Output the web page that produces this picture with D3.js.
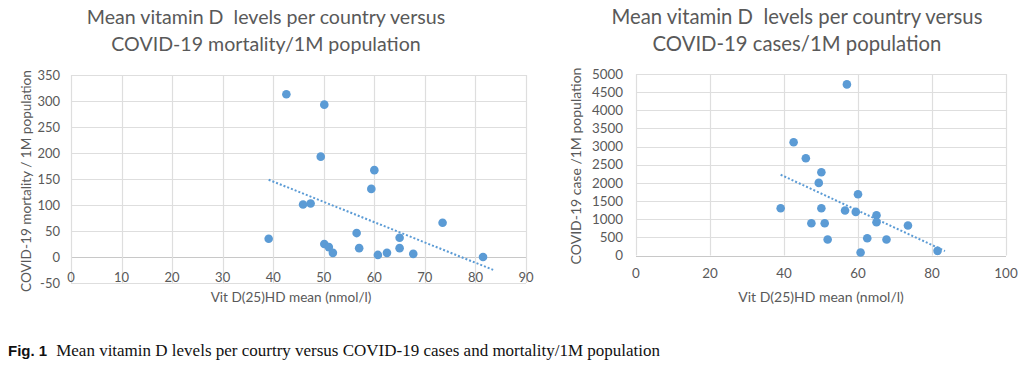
<!DOCTYPE html>
<html><head><meta charset="utf-8">
<script src="https://cdn.jsdelivr.net/npm/d3@7"></script>
<style>
body{margin:0;background:#fff;}
svg{display:block;}
text{white-space:pre;}
</style></head>
<body>
<svg id="c" width="1024" height="368"></svg>
<script>
// Vitamin D mean (nmol/l) per country
const vitD = [42.6, 50.1, 49.4, 60.0, 59.4, 45.9, 47.4, 39.1, 73.5, 56.5, 65.0, 65.0, 57.0, 50.1, 51.0, 51.8, 60.7, 62.5, 67.7, 81.5];
// COVID-19 mortality / 1M population
const mortality = [313, 293, 193, 167, 131, 101, 103, 35, 66, 46, 37, 17, 17, 25, 19, 8, 4, 8, 6, 0];
// COVID-19 cases / 1M population
const cases = [3120, 2293, 2000, 1687, 1201, 2678, 889, 1302, 825, 1238, 1110, 917, 4714, 1302, 889, 440, 83, 477, 440, 128];

const leftXTicks = [0,10,20,30,40,50,60,70,80,90];
const leftYTicks = [-50,0,50,100,150,200,250,300,350];
const rightXTicks = [0,20,40,60,80,100];
const rightYTicks = [0,500,1000,1500,2000,2500,3000,3500,4000,4500,5000];

const leftTitle = ["Mean vitamin D  levels per country versus", "COVID-19 mortality/1M population"];
const rightTitle = ["Mean vitamin D  levels per country versus", "COVID-19 cases/1M population"];
const leftYLabel = "COVID-19 mortality / 1M population";
const rightYLabel = "COVID-19 case /1M population";
const xLabel = "Vit D(25)HD mean (nmol/l)";

const svg = d3.select("#c");
const FONT = "Lato, 'Open Sans', sans-serif";
const TXT = "#595959";
const BLUE = "#5B9BD5";

function regression(xs, ys){
  const n = xs.length, mx = d3.mean(xs), my = d3.mean(ys);
  let sxy=0, sxx=0;
  for(let i=0;i<n;i++){ sxy += (xs[i]-mx)*(ys[i]-my); sxx += (xs[i]-mx)**2; }
  const b = sxy/sxx; return {a: my - b*mx, b};
}

function chart(cfg){
  const x = d3.scaleLinear().domain(cfg.xDomain).range(cfg.xRange);
  const y = d3.scaleLinear().domain(cfg.yDomain).range(cfg.yRange);
  const g = svg.append("g");
  g.selectAll(".hg").data(cfg.yTicks).join("line")
    .attr("x1", cfg.xRange[0]).attr("x2", cfg.xRange[1])
    .attr("y1", d=>Math.round(y(d))+0.5).attr("y2", d=>Math.round(y(d))+0.5)
    .attr("stroke", d=> d===0 ? "#c8c8c8" : "#dedede").attr("stroke-width", 1.2);
  g.selectAll(".vg").data(cfg.xTicks).join("line")
    .attr("x1", d=>Math.round(x(d))+0.5).attr("x2", d=>Math.round(x(d))+0.5)
    .attr("y1", cfg.yRange[0]).attr("y2", cfg.yRange[1])
    .attr("stroke", "#dedede").attr("stroke-width", 1.2);
  g.selectAll(".yl").data(cfg.yTicks).join("text")
    .attr("x", cfg.yLabelX).attr("y", d=>y(d)).attr("dy","0.35em")
    .attr("text-anchor","end").attr("font-family",FONT).attr("font-size",cfg.tickSize)
    .attr("fill",TXT).text(d=>d);
  g.selectAll(".xl").data(cfg.xTicks).join("text")
    .attr("x", d=>x(d)).attr("y", cfg.xLabelY).attr("dy","0.35em")
    .attr("text-anchor","middle").attr("font-family",FONT).attr("font-size",cfg.tickSize)
    .attr("fill",TXT).text(d=>d);
  const r = regression(cfg.xs, cfg.ys);
  const x0 = d3.min(cfg.xs), x1 = d3.max(cfg.xs) + 2;
  g.append("line")
    .attr("x1", x(x0)).attr("y1", y(r.a + r.b*x0))
    .attr("x2", x(x1)).attr("y2", y(r.a + r.b*x1))
    .attr("stroke", BLUE).attr("stroke-width", 2).attr("stroke-dasharray","2,2");
  g.selectAll(".pt").data(cfg.xs.map((v,i)=>[v,cfg.ys[i]])).join("circle")
    .attr("cx", d=>x(d[0])).attr("cy", d=>y(d[1])).attr("r", 4.3)
    .attr("fill", BLUE);
  cfg.title.forEach((t,i)=>{
    g.append("text").attr("x", cfg.titleX).attr("y", 24 + i*27)
      .attr("text-anchor","middle").attr("font-family",FONT).attr("font-size",cfg.titleSize)
      .attr("fill",TXT).text(t);
  });
  g.append("text").attr("x", cfg.xTitleX).attr("y", 297).attr("dy","0.35em")
    .attr("text-anchor","middle").attr("font-family",FONT).attr("font-size",cfg.axisSize)
    .attr("fill",TXT).text(xLabel);
  g.append("text").attr("transform", `translate(${cfg.yTitleX},${cfg.yTitleY}) rotate(-90)`)
    .attr("dy","0.35em").attr("text-anchor","middle").attr("font-family",FONT).attr("font-size",cfg.axisSize)
    .attr("fill",TXT).text(cfg.yLabel);
}

chart({xDomain:[0,90], xRange:[71,526], yDomain:[-50,350], yRange:[283,75],
  xTicks:leftXTicks, yTicks:leftYTicks, xs:vitD, ys:mortality,
  yLabelX:60, xLabelY:277, title:leftTitle, titleX:266, xTitleX:291,
  yTitleX:26, yTitleY:181, yLabel:leftYLabel,
  titleSize:19.6, tickSize:13, axisSize:13.6});

chart({xDomain:[0,100], xRange:[636,1006], yDomain:[0,5000], yRange:[255.5,74],
  xTicks:rightXTicks, yTicks:rightYTicks, xs:vitD, ys:cases,
  yLabelX:623, xLabelY:273, title:rightTitle, titleX:797, xTitleX:821,
  yTitleX:576, yTitleY:166, yLabel:rightYLabel,
  titleSize:20.3, tickSize:13.4, axisSize:14});

const cap = svg.append("text").attr("x", 8).attr("y", 356).attr("font-size", 17).attr("fill","#111");
cap.append("tspan").attr("font-family","'Liberation Sans', Arial, sans-serif").attr("font-weight","bold").attr("font-size",15).text("Fig. 1");
cap.append("tspan").attr("font-family","'Liberation Serif', 'Times New Roman', serif").attr("dx", 9)
  .text("Mean vitamin D levels per courtry versus COVID-19 cases and mortality/1M population");
</script>
</body></html>
